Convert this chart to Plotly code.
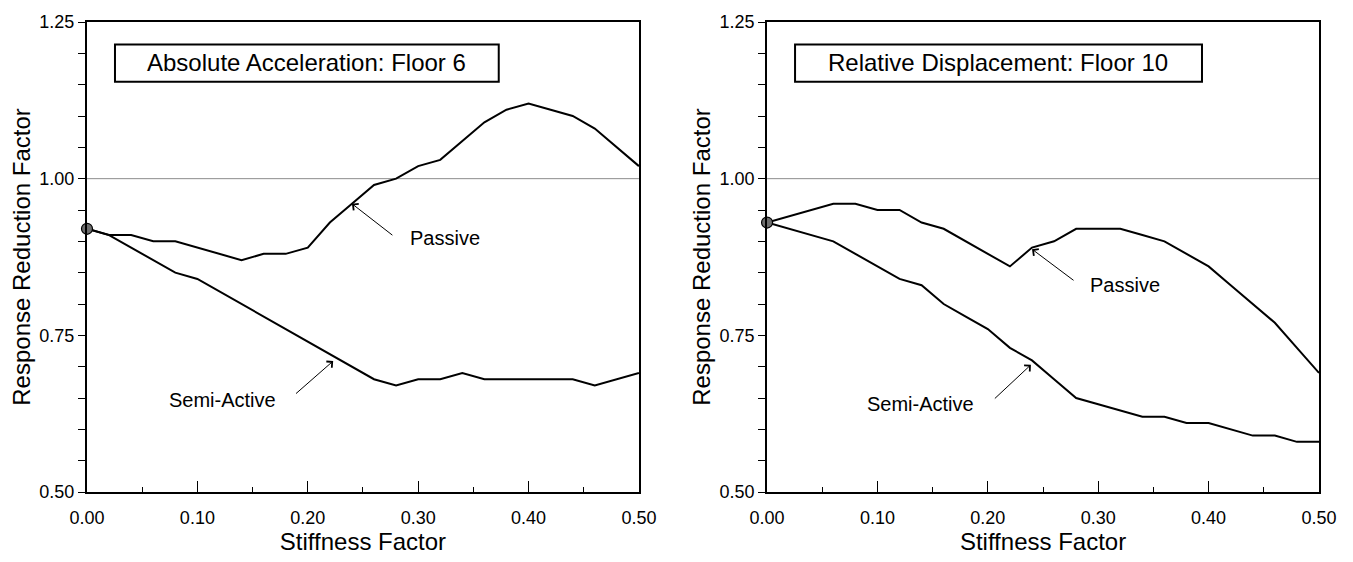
import plotly.graph_objects as go

# ---- data ----
stiffness = [0.00, 0.02, 0.04, 0.06, 0.08, 0.10, 0.12, 0.14, 0.16, 0.18, 0.20, 0.22, 0.24,
             0.26, 0.28, 0.30, 0.32, 0.34, 0.36, 0.38, 0.40, 0.42, 0.44, 0.46, 0.48, 0.50]

acc_passive = [0.92, 0.91, 0.91, 0.90, 0.90, 0.89, 0.88, 0.87, 0.88, 0.88, 0.89, 0.93, 0.96,
               0.99, 1.00, 1.02, 1.03, 1.06, 1.09, 1.11, 1.12, 1.11, 1.10, 1.08, 1.05, 1.02]
acc_semi = [0.92, 0.91, 0.89, 0.87, 0.85, 0.84, 0.82, 0.80, 0.78, 0.76, 0.74, 0.72, 0.70,
            0.68, 0.67, 0.68, 0.68, 0.69, 0.68, 0.68, 0.68, 0.68, 0.68, 0.67, 0.68, 0.69]

disp_passive = [0.93, 0.94, 0.95, 0.96, 0.96, 0.95, 0.95, 0.93, 0.92, 0.90, 0.88, 0.86, 0.89,
                0.90, 0.92, 0.92, 0.92, 0.91, 0.90, 0.88, 0.86, 0.83, 0.80, 0.77, 0.73, 0.69]
disp_semi = [0.93, 0.92, 0.91, 0.90, 0.88, 0.86, 0.84, 0.83, 0.80, 0.78, 0.76, 0.73, 0.71,
             0.68, 0.65, 0.64, 0.63, 0.62, 0.62, 0.61, 0.61, 0.60, 0.59, 0.59, 0.58, 0.58]

panel_titles = ["Absolute Acceleration: Floor 6", "Relative Displacement: Floor 10"]
x_ticks = [0.0, 0.1, 0.2, 0.3, 0.4, 0.5]
y_ticks = [0.50, 0.75, 1.00, 1.25]
reference_level = 1.0

FONT = "Liberation Sans, Arial, sans-serif"

fig = go.Figure()

panels = [
    ("x", "y", acc_passive, acc_semi),
    ("x2", "y2", disp_passive, disp_semi),
]

for xa, ya, pas, semi in panels:
    fig.add_trace(go.Scatter(x=stiffness, y=pas, mode="lines", xaxis=xa, yaxis=ya,
                             line=dict(color="black", width=2), cliponaxis=False,
                             showlegend=False))
    fig.add_trace(go.Scatter(x=stiffness, y=semi, mode="lines", xaxis=xa, yaxis=ya,
                             line=dict(color="black", width=2), cliponaxis=False,
                             showlegend=False))
    fig.add_trace(go.Scatter(x=[stiffness[0]], y=[pas[0]], mode="markers", xaxis=xa, yaxis=ya,
                             marker=dict(color="#6e6e6e", size=11,
                                         line=dict(color="black", width=1.2)),
                             cliponaxis=False, showlegend=False))

axis_common_x = dict(range=[0, 0.5], tickvals=x_ticks, tickformat=".2f",
                     ticks="inside", ticklen=11, tickwidth=1, tickcolor="black",
                     minor=dict(dtick=0.05, ticks="inside", ticklen=5, tickwidth=1,
                                tickcolor="black"),
                     showline=True, linecolor="black", linewidth=2, mirror=True,
                     showgrid=False, zeroline=False,
                     tickfont=dict(family=FONT, size=18, color="black"),
                     ticklabelstandoff=8,
                     title=dict(text="Stiffness Factor",
                                font=dict(family=FONT, size=24, color="black"),
                                standoff=6))
axis_common_y = dict(range=[0.5, 1.25], tickvals=y_ticks, tickformat=".2f",
                     ticks="outside", ticklen=7, tickwidth=1, tickcolor="black",
                     minor=dict(dtick=0.05, ticks="outside", ticklen=7, tickwidth=1,
                                tickcolor="black"),
                     showline=True, linecolor="black", linewidth=2, mirror=True,
                     showgrid=False, zeroline=False,
                     tickfont=dict(family=FONT, size=18, color="black"),
                     title=dict(text="Response Reduction Factor",
                                font=dict(family=FONT, size=24, color="black"),
                                standoff=2))

fig.update_layout(
    width=1353, height=562,
    margin=dict(l=87, r=34, t=16, b=65),
    plot_bgcolor="white", paper_bgcolor="white",
    xaxis=dict(domain=[0, 0.448], anchor="y", **axis_common_x),
    yaxis=dict(domain=[0, 1], anchor="x", **axis_common_y),
    xaxis2=dict(domain=[0.552, 1], anchor="y2", **axis_common_x),
    yaxis2=dict(domain=[0, 1], anchor="x2", **axis_common_y),
    font=dict(family=FONT, color="black"),
)

# reference line at 1.00
for xa, ya in [("x", "y"), ("x2", "y2")]:
    fig.add_shape(type="line", xref=f"{xa} domain", yref=ya, x0=0, x1=1,
                  y0=reference_level, y1=reference_level,
                  line=dict(color="#8c8c8c", width=1), layer="below")

# title boxes
boxes = [("x", "y", 0.0507, 0.746, 0.398), ("x2", "y2", 0.0507, 0.788, 0.419)]
for (xa, ya, bx0, bx1, tx), title in zip(boxes, panel_titles):
    fig.add_shape(type="rect", xref=f"{xa} domain", yref=f"{ya} domain",
                  x0=bx0, x1=bx1, y0=0.873, y1=0.952,
                  line=dict(color="black", width=2), fillcolor="white", layer="below")
    fig.add_annotation(xref=f"{xa} domain", yref=f"{ya} domain", x=tx, y=0.913,
                       xanchor="center", yanchor="middle",
                       text=title, showarrow=False,
                       font=dict(family=FONT, size=24, color="black"))

# labels with arrows
labels = [
    ("x", "y", "Passive", 0.324, 0.905, 0.278, 0.908, 0.240, 0.960),
    ("x", "y", "Semi-Active", 0.123, 0.647, 0.188, 0.655, 0.223, 0.709),
    ("x2", "y2", "Passive", 0.324, 0.831, 0.279, 0.836, 0.240, 0.8875),
    ("x2", "y2", "Semi-Active", 0.139, 0.641, 0.205, 0.647, 0.239, 0.703),
]
for xa, ya, txt, lx, ly, tx0, ty0, hx, hy in labels:
    fig.add_annotation(xref=xa, yref=ya, x=lx, y=ly, text=txt, showarrow=False,
                       xanchor="center", yanchor="middle",
                       font=dict(family=FONT, size=20, color="black"))
    fig.add_annotation(xref=xa, yref=ya, x=hx, y=hy, ax=tx0, ay=ty0,
                       axref=xa, ayref=ya, text="", showarrow=True,
                       arrowhead=4, arrowsize=1.6, arrowwidth=1, arrowcolor="black")

fig.write_html("out.html")
